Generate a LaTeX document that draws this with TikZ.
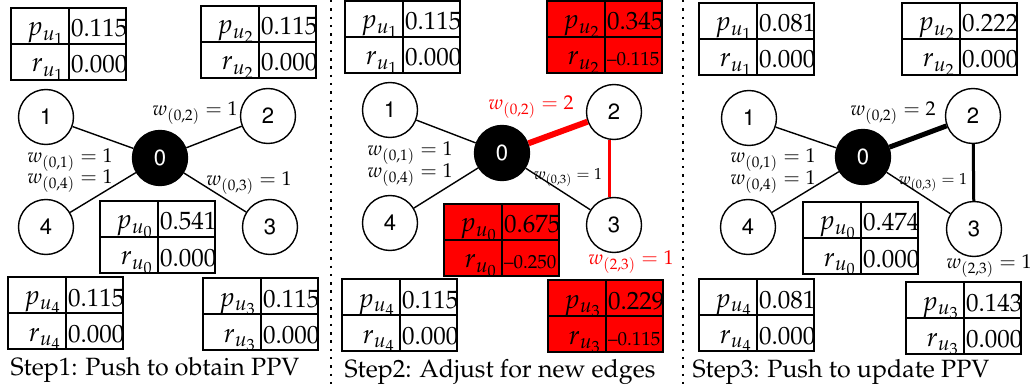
\documentclass[tikz,border=0pt]{standalone}
\usepackage[T1]{fontenc}
\usepackage{mathpazo}
\usepackage[scaled=0.92]{helvet}
\usetikzlibrary{positioning}
\tikzset{>=latex}
\tikzset{x=1pt, y=-1pt}
\tikzset{
  vert/.style={circle, draw=black, line width=1.4pt, minimum size=55pt,
    inner sep=0pt, font=\fontsize{24}{26}\selectfont\sffamily},
  srcvert/.style={vert, fill=black, text=white},
  edge/.style={line width=1.4pt},
  lcell/.style={draw=black, line width=1.3pt, minimum width=58pt,
    minimum height=36pt, inner sep=0pt, outer sep=0pt, anchor=north west},
  rcell/.style={lcell, minimum width=57pt},
  symtxt/.style={inner sep=0pt, anchor=base east, font=\fontsize{27}{29}\selectfont},
  valtxt/.style={inner sep=0pt, anchor=base west, font=\fontsize{25}{27}\selectfont},
  wlab/.style={inner sep=0pt, font=\fontsize{20}{22}\selectfont},
  wsmall/.style={inner sep=0pt, font=\fontsize{16}{18}\selectfont},
  caption/.style={inner sep=0pt, font=\fontsize{25}{27}\selectfont},
  sep/.style={line width=2.5pt, dash pattern=on 2.5pt off 5.8pt}
}
% one p/r table: name, top-left corner, index, p value, r value, fill
\newcommand{\ppvtab}[6]{%
  \node[lcell, fill=#6] (#1p) at (#2) {};
  \node[rcell, fill=#6, right=0pt of #1p] (#1pv) {};
  \node[lcell, fill=#6, below=0pt of #1p] (#1r) {};
  \node[rcell, fill=#6, below=0pt of #1pv] (#1rv) {};
  \node[symtxt] (#1pt) at ([xshift=-5pt, yshift=8pt]#1p.south east) {$p_{u_{#3}}$};
  \node[symtxt] (#1rt) at ([xshift=-5pt, yshift=8pt]#1r.south east) {$r_{u_{#3}}$};
  \node[valtxt] (#1pvt) at ([xshift=2pt, yshift=7pt]#1pv.south west) {#4};
  \node[valtxt] (#1rvt) at ([xshift=2pt, yshift=7pt]#1rv.south west) {#5};
}
\newcommand{\negval}[1]{{\fontsize{19}{21}\selectfont\textendash#1}}

\begin{document}
\begin{tikzpicture}
  \useasboundingbox (0,0) rectangle (1031,390);

  % separators
  \draw[sep] (331,0) -- (331,390);
  \draw[sep] (683,0) -- (683,390);

  % Step 1
  \node[srcvert] (a0) at (160,158) {0};
  \node[vert] (a1) at (46,117) {1};
  \node[vert] (a2) at (268,116) {2};
  \node[vert] (a3) at (270,227) {3};
  \node[vert] (a4) at (46,227) {4};
  \foreach \v in {1,...,4}
    \draw[edge] (a0) -- (a\v);
  \node[wlab] (a02) at (195,113) {$w_{(0,2)} = 1$};
  \node[wlab] (a01) at (70,160) {$w_{(0,1)} = 1$};
  \node[wlab] (a04) at (70,181) {$w_{(0,4)} = 1$};
  \node[wlab] (a03) at (249,183) {$w_{(0,3)} = 1$};
  \ppvtab{ta1}{11,8}{1}{0.115}{0.000}{white}
  \ppvtab{ta2}{201,6}{2}{0.115}{0.000}{white}
  \ppvtab{ta0}{100,201}{0}{0.541}{0.000}{white}
  \ppvtab{ta4}{8,277}{4}{0.115}{0.000}{white}
  \ppvtab{ta3}{203,278}{3}{0.115}{0.000}{white}
  \node[caption] (cap1) at (155,370) {Step1: Push to obtain PPV};

  % Step 2
  \node[srcvert] (b0) at (502,153) {0};
  \node[vert] (b1) at (390,110) {1};
  \node[vert] (b2) at (614,112) {2};
  \node[vert] (b3) at (614,225) {3};
  \node[vert] (b4) at (390,223) {4};
  \foreach \v in {1,3,4}
    \draw[edge] (b0) -- (b\v);
  \draw[red, line width=6pt] (b0) -- (b2);
  \draw[red, line width=3pt] ([xshift=-5pt]b2.south) -- ([xshift=-5pt]b3.north);
  \node[wlab, text=red] (b02) at (531,107) {$w_{(0,2)} = 2$};
  \node[wlab] (b01) at (410,153) {$w_{(0,1)} = 1$};
  \node[wlab] (b04) at (410,175) {$w_{(0,4)} = 1$};
  \node[wsmall] (b03) at (568,178) {$w_{(0,3)} = 1$};
  \node[wlab, text=red] (b23) at (631,262) {$w_{(2,3)} = 1$};
  \ppvtab{tb1}{345,1}{1}{0.115}{0.000}{white}
  \ppvtab{tb2}{547,1}{2}{0.345}{\negval{0.115}}{red}
  \ppvtab{tb0}{444,204}{0}{0.675}{\negval{0.250}}{red}
  \ppvtab{tb4}{342,279}{4}{0.115}{0.000}{white}
  \ppvtab{tb3}{548,280}{3}{0.229}{\negval{0.115}}{red}
  \node[caption] (cap2) at (500,372) {Step2: Adjust for new edges};

  % Step 3
  \node[srcvert] (c0) at (863,157) {0};
  \node[vert] (c1) at (749,118) {1};
  \node[vert] (c2) at (973,116) {2};
  \node[vert] (c3) at (974,229) {3};
  \node[vert] (c4) at (748,227) {4};
  \foreach \v in {1,3,4}
    \draw[edge] (c0) -- (c\v);
  \draw[line width=5pt] (c0) -- (c2);
  \draw[line width=3pt] (c2) -- (c3);
  \node[wlab] (c02) at (893,113) {$w_{(0,2)} = 2$};
  \node[wlab] (c01) at (773,160) {$w_{(0,1)} = 1$};
  \node[wlab] (c04) at (773,182) {$w_{(0,4)} = 1$};
  \node[wsmall] (c03) at (933,183) {$w_{(0,3)} = 1$};
  \node[wlab] (c23) at (989,266) {$w_{(2,3)} = 1$};
  \ppvtab{tc1}{699,3}{1}{0.081}{0.000}{white}
  \ppvtab{tc2}{902,3}{2}{0.222}{0.000}{white}
  \ppvtab{tc0}{803,202}{0}{0.474}{0.000}{white}
  \ppvtab{tc4}{699,279}{4}{0.081}{0.000}{white}
  \ppvtab{tc3}{906,282}{3}{0.143}{0.000}{white}
  \node[caption] (cap3) at (841,372) {Step3: Push to update PPV};
\end{tikzpicture}
\end{document}
